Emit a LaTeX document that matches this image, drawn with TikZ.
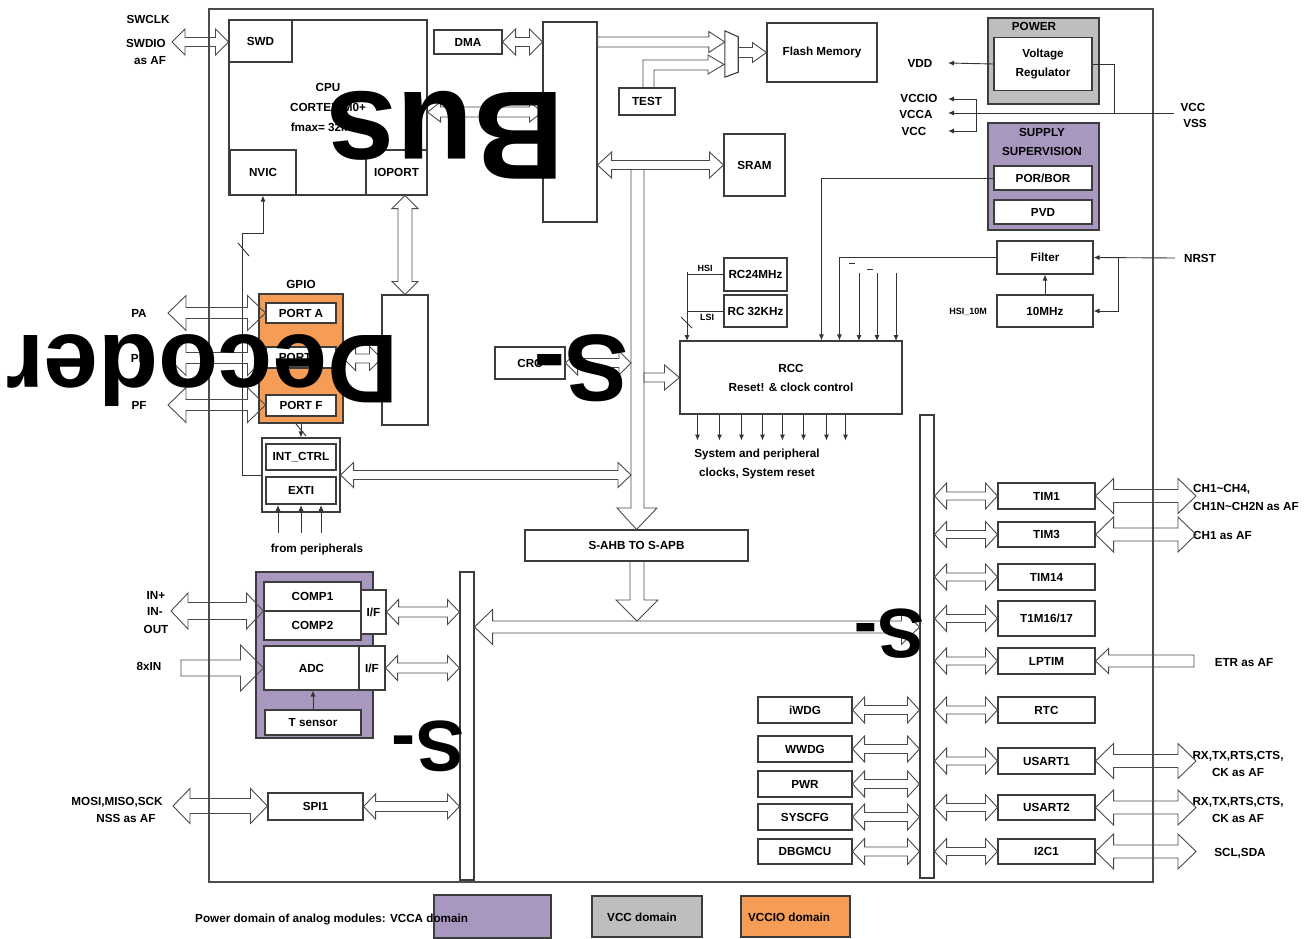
\documentclass[tikz,border=0pt]{standalone}
\usepackage{fontspec}
\setmainfont{Liberation Sans}
\usetikzlibrary{arrows.meta,calc}
\definecolor{EdgeGray}{HTML}{3C3C3C}
\definecolor{ArrowGray}{HTML}{4A4A4A}
\definecolor{VccaPurple}{HTML}{A898C0}
\definecolor{VccGray}{HTML}{BEBEBE}
\definecolor{VccioOrange}{HTML}{F59D56}
\newcommand{\lbl}{\bfseries\fontsize{11.7}{19}\selectfont}
\newcommand{\tinylbl}{\bfseries\fontsize{9}{10}\selectfont}
\newcommand{\bigword}[1]{\bfseries\fontsize{#1}{#1}\selectfont}
% hollow double arrow, horizontal (y of #1): shaft #3, head #4, head length #5
\newcommand{\hbus}[5]{%
  \draw[hollow] let \p1=#1, \p2=#2, \n1={(\x2-\x1)/abs(\x2-\x1)} in
    (\x1,\y1) -- (\x1+\n1*#5pt,\y1+#4pt) -- (\x1+\n1*#5pt,\y1+#3pt)
    -- (\x2-\n1*#5pt,\y1+#3pt) -- (\x2-\n1*#5pt,\y1+#4pt) -- (\x2,\y1)
    -- (\x2-\n1*#5pt,\y1-#4pt) -- (\x2-\n1*#5pt,\y1-#3pt)
    -- (\x1+\n1*#5pt,\y1-#3pt) -- (\x1+\n1*#5pt,\y1-#4pt) -- cycle;}
% hollow double arrow, vertical (x of #1)
\newcommand{\vbus}[5]{%
  \draw[hollow] let \p1=#1, \p2=#2, \n1={(\y2-\y1)/abs(\y2-\y1)} in
    (\x1,\y1) -- (\x1+#4pt,\y1+\n1*#5pt) -- (\x1+#3pt,\y1+\n1*#5pt)
    -- (\x1+#3pt,\y2-\n1*#5pt) -- (\x1+#4pt,\y2-\n1*#5pt) -- (\x1,\y2)
    -- (\x1-#4pt,\y2-\n1*#5pt) -- (\x1-#3pt,\y2-\n1*#5pt)
    -- (\x1-#3pt,\y1+\n1*#5pt) -- (\x1-#4pt,\y1+\n1*#5pt) -- cycle;}
% hollow single arrow: tip #1 (its y), tail #2 (its x)
\newcommand{\hone}[5]{%
  \draw[hollow] let \p1=#1, \p2=#2, \n1={(\x2-\x1)/abs(\x2-\x1)} in
    (\x1,\y1) -- (\x1+\n1*#5pt,\y1+#4pt) -- (\x1+\n1*#5pt,\y1+#3pt)
    -- (\x2,\y1+#3pt) -- (\x2,\y1-#3pt)
    -- (\x1+\n1*#5pt,\y1-#3pt) -- (\x1+\n1*#5pt,\y1-#4pt) -- cycle;}

\begin{document}
\begin{tikzpicture}[x=1pt, y=-1pt,
    every node/.style={align=center, font=\lbl, inner sep=0pt},
    blk/.style={draw=EdgeGray, line width=1.1pt, fill=white},
    hollow/.style={draw=ArrowGray, line width=0.9pt},
    wire/.style={draw=black!80, line width=0.9pt},
    >={Latex[length=6pt,width=5pt]}]
  \useasboundingbox (0,0) rectangle (1306,939);

  \node[blk, draw=black!70, line width=1.3pt, fill=none, minimum width=944, minimum height=873] (chip) at (681,445.5) {};

  % core and memories
  \node[blk, minimum width=198, minimum height=175, font={\bfseries\fontsize{11.7}{20}\selectfont}] (cpu) at (328,107.5) {CPU\\CORTEX-M0+\\fmax= 32MHz};
  \node[blk, minimum width=63, minimum height=42] (swd) at (260.5,41) {SWD};
  \node[blk, minimum width=66, minimum height=45] (nvic) at (263,172.5) {NVIC};
  \node[blk, minimum width=61, minimum height=45] (ioport) at (396.5,172.5) {IOPORT};
  \node[blk, minimum width=68, minimum height=24] (dma) at (468,42) {DMA};
  \node[blk, minimum width=54, minimum height=200] (busbar) at (570,122) {};
  \node[blk, minimum width=110, minimum height=59] (flash) at (822,52.5) {Flash Memory};
  \node[blk, minimum width=56, minimum height=27] (test) at (647,101.5) {TEST};
  \node[blk, minimum width=61, minimum height=62] (sram) at (754.5,165) {SRAM};
  \node[minimum width=13, minimum height=46] (mux) at (731.5,54) {};
  \draw[blk] (mux.north west) -- ($(mux.north east)+(0,6)$) -- ($(mux.south east)+(0,-5)$) -- (mux.south west) -- cycle;
  \node (swclk) at (148,19) {SWCLK};
  \node (swdio) at (146,43) {SWDIO};
  \node (swaf) at (150,61) {as AF};
  \coordinate (swdpin) at (172,42);

  % power
  \node[blk, fill=VccGray, minimum width=111, minimum height=86] (power) at (1043.5,61) {};
  \node (powerlbl) at (1034,26) {POWER};
  \node[blk, minimum width=98, minimum height=53] (vreg) at (1043,64) {Voltage\\Regulator};
  \node[blk, fill=VccaPurple, minimum width=111, minimum height=107] (supply) at (1043.5,176.5) {};
  \node (supplylbl) at (1042,142) {SUPPLY\\SUPERVISION};
  \node[blk, minimum width=98, minimum height=24] (porbor) at (1043,178) {POR/BOR};
  \node[blk, minimum width=98, minimum height=24] (pvd) at (1043,212) {PVD};
  \node[blk, minimum width=96, minimum height=33] (filter) at (1045,257.5) {Filter};
  \node[blk, minimum width=96, minimum height=32] (mhz) at (1045,311) {10MHz};
  \node[font=\tinylbl] (hsi10) at (968,312) {HSI\_10M};
  \node (vdd) at (920,63) {VDD};
  \node (vccio) at (919,98) {VCCIO};
  \node (vcca) at (916,114) {VCCA};
  \node (vcc) at (914,131) {VCC};
  \node (vccr) at (1193,107) {VCC};
  \node (vss) at (1195,123) {VSS};
  \node (nrst) at (1200,258) {NRST};
  \coordinate (vddpin) at (948,63);
  \coordinate (vcciopin) at (948,99);
  \coordinate (vccapin) at (948,113);
  \coordinate (vccpin) at (948,131);
  \coordinate (vccin) at (1174,113);
  \coordinate (nrstpin) at (1175,258);
  \draw[wire,->] (vreg.west) -- (vddpin);
  \draw[wire] (vreg.east) -| (1114,113);
  \draw[wire,->] (vccin) -- (vccapin);
  \draw[wire,<->] (vcciopin) -| (976,131) -- (vccpin);
  \draw[wire,->] (nrstpin) -- (filter.east);
  \draw[wire,->] (1118,258) |- (mhz.east);
  \draw[wire,->] (mhz.north) -- (filter.south);

  % clocks
  \node[blk, minimum width=63, minimum height=33] (rc24) at (755.5,274.5) {RC24MHz};
  \node[blk, minimum width=63, minimum height=32] (rc32) at (755.5,311) {RC 32KHz};
  \node[font=\tinylbl] (hsi) at (705,268) {HSI};
  \node[font=\tinylbl] (lsi) at (707,317) {LSI};
  \node[blk, minimum width=222, minimum height=73] (rcc) at (791,377.5) {RCC\\Reset! \& clock control};
  \node (clkout) at (757,463.5) {System and peripheral\\clocks, System reset};
  \draw[wire] (rc24.west) -- (687,274.5);
  \draw[wire] (rc32.west) -- (687,311);
  \draw[wire,->] (687,272) -- (687,341);
  \draw[wire] (681,317) -- (692,328);
  \draw[wire,->] (porbor.west) -| ([xshift=142]rcc.north west);
  \draw[wire,->] (filter.west) -| ([xshift=160]rcc.north west);
  \foreach \x in {859,877,896} \draw[wire,->] (\x,273) -- (\x,341);
  \draw[wire, line width=0.5pt] (849,263) -- (855,263) (867,269) -- (873,269);
  \foreach \dx in {18,40,62,83,103,124,147,166} \draw[wire,->] ([xshift=\dx]rcc.south west) -- ++(0,26);

  \node[blk, minimum width=70, minimum height=32] (crc) at (530,363) {CRC};
  \node[blk, minimum width=223, minimum height=31] (sahb) at (636.5,545.5) {S-AHB TO S-APB};

  % GPIO and EXTI
  \node[blk, fill=VccioOrange, minimum width=84, minimum height=129] (gpio) at (301,358.5) {};
  \node (gpiolbl) at (301,284) {GPIO};
  \node[blk, minimum width=70, minimum height=20] (porta) at (301,313) {PORT A};
  \node[blk, minimum width=70, minimum height=21] (portb) at (301,357.5) {PORT B};
  \node[blk, minimum width=70, minimum height=21] (portf) at (301,405.5) {PORT F};
  \node[blk, minimum width=46, minimum height=130] (gpiobus) at (405,360) {};
  \node[blk, minimum width=78, minimum height=74] (intbox) at (301,475) {};
  \node[blk, minimum width=70, minimum height=26] (intctrl) at (301,457) {INT\_CTRL};
  \node[blk, minimum width=70, minimum height=27] (exti) at (301,490.5) {EXTI};
  \node (fromper) at (317,549) {from peripherals};
  \node (pa) at (139,313) {PA};
  \node (pb) at (139,358) {PB};
  \node (pf) at (139,405) {PF};
  \coordinate (papin) at (168,313);
  \coordinate (pbpin) at (168,358);
  \coordinate (pfpin) at (168,405);
  \draw[wire,<-] (nvic.south) -- ++(0,38) -| ([xshift=-19]intbox.west) -- (intbox.west);
  \draw[wire] (238,243) -- (249,256);
  \draw[wire,->] (gpio.south) -- (intbox.north);
  \draw[wire] (296,424) -- (306,436);
  \foreach \x in {278,301,321} \draw[wire,->] (\x,533) -- (\x,505);

  % analog
  \node[blk, fill=VccaPurple, minimum width=117, minimum height=166] (analog) at (314.5,655) {};
  \node[blk, minimum width=97, minimum height=29] (comp1) at (312.5,596.5) {COMP1};
  \node[blk, minimum width=97, minimum height=29] (comp2) at (312.5,625.5) {COMP2};
  \node[blk, minimum width=25, minimum height=44] (compif) at (373.5,612) {I/F};
  \node[blk, minimum width=95, minimum height=44] (adc) at (311.5,668) {ADC};
  \node[blk, minimum width=26, minimum height=44] (adcif) at (372,668) {I/F};
  \node[blk, minimum width=96, minimum height=25] (tsens) at (313,722.5) {T sensor};
  \node[blk, minimum width=95, minimum height=27] (spi) at (315.5,806.5) {SPI1};
  \draw[wire,->] (tsens.north) -- (tsens.north |- adc.south);
  \node (inp) at (156,595) {IN+};
  \node (inm) at (155,611) {IN-};
  \node (out) at (156,629) {OUT};
  \node (adcin) at (149,666) {8xIN};
  \node (spilbl) at (117,802) {MOSI,MISO,SCK};
  \node (nsslbl) at (126,818) {NSS as AF};
  \coordinate (inpin) at (171,611);
  \coordinate (adcpin) at (181,668);
  \coordinate (spipin) at (173,806);

  % APB side
  \node[blk, minimum width=14, minimum height=308] (apbL) at (467,726) {};
  \node[blk, minimum width=14, minimum height=463] (apbR) at (927,646.5) {};
  \node[blk, minimum width=97, minimum height=26] (tim1) at (1046.5,496) {TIM1};
  \node[blk, minimum width=97, minimum height=25] (tim3) at (1046.5,534.5) {TIM3};
  \node[blk, minimum width=97, minimum height=26] (tim14) at (1046.5,577) {TIM14};
  \node[blk, minimum width=97, minimum height=35] (tim16) at (1046.5,618.5) {T1M16/17};
  \node[blk, minimum width=97, minimum height=26] (lptim) at (1046.5,661) {LPTIM};
  \node[blk, minimum width=97, minimum height=26] (rtc) at (1046.5,710) {RTC};
  \node[blk, minimum width=97, minimum height=26] (usart1) at (1046.5,761) {USART1};
  \node[blk, minimum width=97, minimum height=25] (usart2) at (1046.5,807.5) {USART2};
  \node[blk, minimum width=97, minimum height=25] (i2c) at (1046.5,851.5) {I2C1};
  \node[blk, minimum width=94, minimum height=26] (iwdg) at (805,710) {iWDG};
  \node[blk, minimum width=94, minimum height=26] (wwdg) at (805,749) {WWDG};
  \node[blk, minimum width=94, minimum height=26] (pwr) at (805,784) {PWR};
  \node[blk, minimum width=94, minimum height=26] (syscfg) at (805,817) {SYSCFG};
  \node[blk, minimum width=94, minimum height=25] (dbg) at (805,851.5) {DBGMCU};
  \node[anchor=west] (ch14) at (1193,489) {CH1\textasciitilde CH4,};
  \node[anchor=west] (ch1n) at (1193,506) {CH1N\textasciitilde CH2N as AF};
  \node[anchor=west] (ch1) at (1193,535) {CH1 as AF};
  \node (etr) at (1244,663) {ETR as AF};
  \node[font={\bfseries\fontsize{11.7}{17}\selectfont}] (rx1) at (1238,763.5) {RX,TX,RTS,CTS,\\CK as AF};
  \node[font={\bfseries\fontsize{11.7}{17}\selectfont}] (rx2) at (1238,809.5) {RX,TX,RTS,CTS,\\CK as AF};
  \node (scl) at (1240,853) {SCL,SDA};
  \coordinate (afpin) at (1196,500);
  \coordinate (etrpin) at (1194,661);

  % legend
  \node[blk, fill=VccaPurple, minimum width=117, minimum height=43] (legvcca) at (492.5,916.5) {};
  \node[anchor=west] (legtext) at (195,919) {Power domain of analog modules: VCCA domain};
  \node[blk, fill=VccGray, minimum width=110, minimum height=41] (legvcc) at (647,916.5) {};
  \node (legvcctext) at (642,917) {VCC domain};
  \node[blk, fill=VccioOrange, minimum width=109, minimum height=41] (legvccio) at (795.5,916.5) {};
  \node (legvcciotext) at (789,917) {VCCIO domain};

  % hollow bus arrows
  \coordinate (dropL) at (631,169.5);
  \coordinate (dropR) at (644,169.5);
  \hbus{(swdpin)}{(swd.west)}{4.5}{13}{13}
  \hbus{(dma.east)}{(busbar.west)}{4.5}{13}{13}
  \hbus{($(cpu.east)+(0,4.5)$)}{(busbar.west)}{5}{10}{13}
  \hbus{(sram.west)}{(busbar.east)}{4.5}{13}{14}
  \hone{($(mux.west)+(0,-12)$)}{(busbar.east)}{5}{10.5}{16}
  \draw[hollow] ([xshift=-4]test.north) |- (708,60) -- (708,55) -- (724,64.5) -- (708,74) -- (708,70) -| ([xshift=7]test.north);
  \hone{(flash.west)}{(mux.east)}{5}{10}{14}
  \draw[hollow] (dropL) -- (631,508) -- (617,508) -- (sahb.north) -- (657,508) -- (644,508) -- (dropR);
  \hbus{(crc.east)}{(dropL)}{4.5}{12}{12}
  \hbus{(intbox.east)}{(dropL)}{4.5}{12.5}{13}
  \hone{(rcc.west)}{(dropR)}{4.5}{12.5}{15}
  \vbus{(gpiobus.north)}{(ioport.south)}{7}{13}{13}
  \hbus{(gpio.east)}{(gpiobus.west)}{4.5}{12}{12}
  \hbus{(papin)}{(porta.west)}{5.5}{17.5}{18}
  \hbus{(pbpin)}{(portb.west)}{5.5}{17.5}{18}
  \hbus{(pfpin)}{(portf.west)}{5.5}{17.5}{18}
  \hbus{(inpin)}{(comp1.west)}{8.5}{18}{17}
  \hone{(adc.west)}{(adcpin)}{8}{23}{23}
  \hbus{(compif.east)}{(apbL.west)}{5}{12.5}{12}
  \hbus{(adcif.east)}{(apbL.west)}{5}{12.5}{12}
  \hbus{(spipin)}{(spi.west)}{7.5}{17.5}{17}
  \hbus{(spi.east)}{(apbL.west)}{5}{12.5}{12}
  \draw[hollow] (630,561) -- (630,600) -- (616,600) -- (637,621) -- (658,600) -- (644,600) -- (644,561);
  \hbus{($(apbL.east)+(0,-99)$)}{(apbR.west)}{6}{17.5}{18}
  \hbus{(tim1.west)}{(apbR.east)}{4}{13}{12}
  \hbus{(tim3.west)}{(apbR.east)}{4}{13}{12}
  \hbus{(tim14.west)}{(apbR.east)}{4}{13}{12}
  \hbus{(tim16.west)}{(apbR.east)}{4}{13}{12}
  \hbus{(lptim.west)}{(apbR.east)}{4}{13}{12}
  \hbus{(rtc.west)}{(apbR.east)}{4}{13}{12}
  \hbus{(usart1.west)}{(apbR.east)}{4}{13}{12}
  \hbus{(usart2.west)}{(apbR.east)}{4}{13}{12}
  \hbus{(i2c.west)}{(apbR.east)}{4}{13}{12}
  \hbus{(iwdg.east)}{(apbR.west)}{4.5}{13}{12}
  \hbus{(wwdg.east)}{(apbR.west)}{4.5}{13}{12}
  \hbus{(pwr.east)}{(apbR.west)}{4.5}{13}{12}
  \hbus{(syscfg.east)}{(apbR.west)}{4.5}{13}{12}
  \hbus{(dbg.east)}{(apbR.west)}{4.5}{13}{12}
  \hbus{(tim1.east)}{(afpin)}{6.5}{17.5}{18}
  \hbus{(tim3.east)}{(afpin)}{6.5}{17.5}{18}
  \hbus{(usart1.east)}{(afpin)}{6.5}{17.5}{18}
  \hbus{(usart2.east)}{(afpin)}{6.5}{17.5}{18}
  \hbus{(i2c.east)}{(afpin)}{6.5}{17.5}{18}
  \hone{(lptim.east)}{(etrpin)}{6}{12.5}{13}

  % upside-down words laid over the drawing
  \node[rotate=180, font={\bigword{126}}] (busword) at (445,135) {Bus};
  \node[rotate=180, font={\bigword{98}}] (decword) at (202,371) {Decoder};
  \node[rotate=180, font={\bigword{95}}] (sword1) at (581,368) {S-};
  \node[rotate=180, font={\bigword{70}}] (sword2) at (889,634) {S-};
  \node[rotate=180, font={\bigword{72}}] (sword3) at (428,746) {S-};
\end{tikzpicture}
\end{document}
